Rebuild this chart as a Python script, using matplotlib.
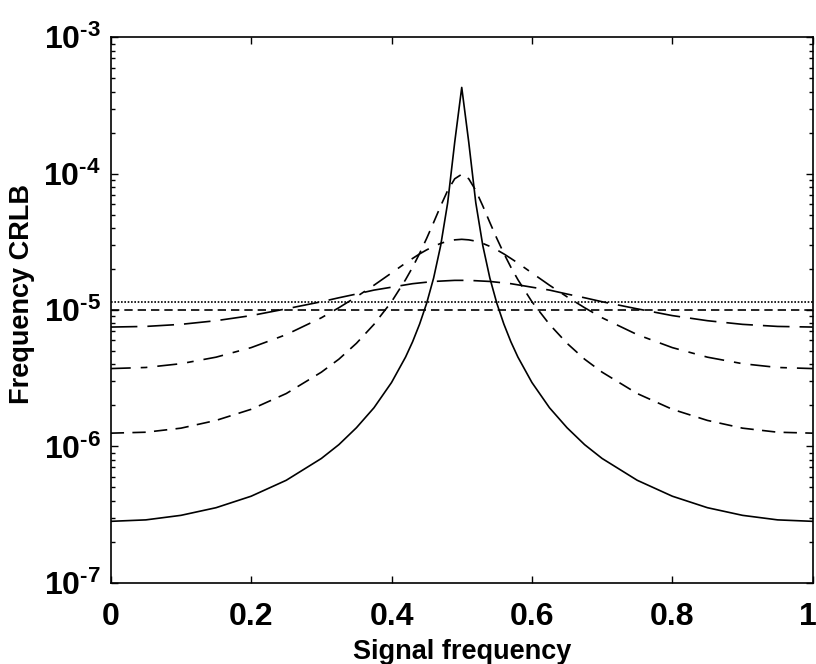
import matplotlib
matplotlib.use('Agg')
import matplotlib.pyplot as plt
from matplotlib.ticker import LogLocator, NullFormatter, FixedLocator, FixedFormatter
from matplotlib.transforms import ScaledTranslation

plt.rcParams['font.family'] = 'Liberation Sans'
plt.rcParams['font.weight'] = 'bold'
plt.rcParams['mathtext.fontset'] = 'custom'
plt.rcParams['mathtext.rm'] = 'Liberation Sans:bold'
plt.rcParams['mathtext.default'] = 'regular'

# signal frequency samples (normalised)
freq = [0.00, 0.05, 0.10, 0.15, 0.20, 0.25, 0.30, 0.325, 0.35, 0.375,
        0.40, 0.42, 0.43, 0.44, 0.45, 0.46, 0.47, 0.48, 0.49, 0.50,
        0.51, 0.52, 0.53, 0.54, 0.55, 0.56, 0.57, 0.58, 0.60, 0.625,
        0.65, 0.675, 0.70, 0.75, 0.80, 0.85, 0.90, 0.95, 1.00]

# CRLB curves
crlb_solid = [2.82e-7, 2.89e-7, 3.12e-7, 3.55e-7, 4.31e-7, 5.64e-7, 8.15e-7, 1.03e-6, 1.37e-6, 1.92e-6,
              2.94e-6, 4.52e-6, 5.85e-6, 7.89e-6, 1.12e-5, 1.72e-5, 2.97e-5, 6.13e-5, 1.70e-4, 4.29e-4,
              1.70e-4, 6.13e-5, 2.97e-5, 1.72e-5, 1.12e-5, 7.89e-6, 5.85e-6, 4.52e-6, 2.94e-6, 1.92e-6,
              1.37e-6, 1.03e-6, 8.15e-7, 5.64e-7, 4.31e-7, 3.55e-7, 3.12e-7, 2.89e-7, 2.82e-7]
crlb_dashed = [1.25e-6, 1.27e-6, 1.36e-6, 1.55e-6, 1.87e-6, 2.44e-6, 3.50e-6, 4.36e-6, 5.70e-6, 7.85e-6,
               1.15e-5, 1.67e-5, 2.06e-5, 2.60e-5, 3.35e-5, 4.39e-5, 5.80e-5, 7.53e-5, 9.17e-5, 9.90e-5,
               9.17e-5, 7.53e-5, 5.80e-5, 4.39e-5, 3.35e-5, 2.60e-5, 2.06e-5, 1.67e-5, 1.15e-5, 7.85e-6,
               5.70e-6, 4.36e-6, 3.50e-6, 2.44e-6, 1.87e-6, 1.55e-6, 1.36e-6, 1.27e-6, 1.25e-6]
crlb_dashdot = [3.72e-6, 3.79e-6, 4.04e-6, 4.51e-6, 5.30e-6, 6.60e-6, 8.77e-6, 1.04e-5, 1.25e-5, 1.52e-5,
                1.87e-5, 2.21e-5, 2.39e-5, 2.58e-5, 2.76e-5, 2.93e-5, 3.08e-5, 3.20e-5, 3.27e-5, 3.30e-5,
                3.27e-5, 3.20e-5, 3.08e-5, 2.93e-5, 2.76e-5, 2.58e-5, 2.39e-5, 2.21e-5, 1.87e-5, 1.52e-5,
                1.25e-5, 1.04e-5, 8.77e-6, 6.60e-6, 5.30e-6, 4.51e-6, 4.04e-6, 3.79e-6, 3.72e-6]
crlb_longdash = [7.50e-6, 7.58e-6, 7.85e-6, 8.35e-6, 9.10e-6, 1.02e-5, 1.15e-5, 1.23e-5, 1.31e-5, 1.40e-5,
                 1.47e-5, 1.53e-5, 1.56e-5, 1.58e-5, 1.60e-5, 1.62e-5, 1.63e-5, 1.64e-5, 1.65e-5, 1.65e-5,
                 1.65e-5, 1.64e-5, 1.63e-5, 1.62e-5, 1.60e-5, 1.58e-5, 1.56e-5, 1.53e-5, 1.47e-5, 1.40e-5,
                 1.31e-5, 1.23e-5, 1.15e-5, 1.02e-5, 9.10e-6, 8.35e-6, 7.85e-6, 7.58e-6, 7.50e-6]

# flat bounds
flat_freq = [0.0, 1.0]
crlb_dotted = [1.15e-5, 1.15e-5]
crlb_shortdash = [1.0e-5, 1.0e-5]

xtick_vals = [0, 0.2, 0.4, 0.6, 0.8, 1]
xtick_text = ['0', '0.2', '0.4', '0.6', '0.8', '1']
ytick_vals = [1e-7, 1e-6, 1e-5, 1e-4, 1e-3]
ytick_text = ['$10^{\u20107}$', '$10^{\u20106}$', '$10^{\u20105}$', '$10^{\u20104}$', '$10^{\u20103}$']

fig = plt.figure(figsize=(8.16, 6.64), dpi=100)
ax = fig.add_axes([0.1357, 0.1224, 0.8603, 0.8214])

lw = 1.2
ax.plot(freq, crlb_solid, color='black', linestyle='-', linewidth=lw)
ax.plot(freq, crlb_dashed, color='black', linestyle=(0, (8, 5)), linewidth=lw)
ax.plot(freq, crlb_dashdot, color='black', linestyle=(0, (12, 6, 4, 6)), linewidth=lw)
ax.plot(freq, crlb_longdash, color='black', linestyle=(0, (16, 6)), linewidth=lw)
ax.plot(flat_freq, crlb_dotted, color='black', linestyle=(0, (1, 1)), linewidth=lw)
ax.plot(flat_freq, crlb_shortdash, color='black', linestyle=(0, (5, 3)), linewidth=lw)

ax.set_yscale('log')
ax.set_xlim(0, 1)
ax.set_ylim(1e-7, 1e-3)
ax.set_xticks(xtick_vals)
ax.set_xticklabels(xtick_text)
ax.yaxis.set_major_locator(FixedLocator(ytick_vals))
ax.yaxis.set_major_formatter(FixedFormatter(ytick_text))
ax.yaxis.set_minor_locator(LogLocator(base=10, subs=range(2, 10)))
ax.yaxis.set_minor_formatter(NullFormatter())

ax.tick_params(which='both', direction='in', top=True, right=True, width=1)
ax.tick_params(which='major', length=5)
ax.tick_params(which='minor', length=3)
ax.tick_params(axis='x', labelsize=23, pad=14)
ax.tick_params(axis='y', labelsize=23, pad=7)
for s in ax.spines.values():
    s.set_linewidth(1.2)

# nudge the last x label so it stays inside the figure
last = ax.get_xticklabels()[-1]
last.set_transform(last.get_transform() + ScaledTranslation(-0.05, 0, fig.dpi_scale_trans))

ax.set_xlabel('Signal frequency', fontsize=19.5, fontweight='bold', labelpad=5)
ax.set_ylabel('Frequency CRLB', fontsize=19.5, fontweight='bold')
ax.yaxis.set_label_coords(-0.108, 0.53)

fig.savefig('out.png', dpi=100)
